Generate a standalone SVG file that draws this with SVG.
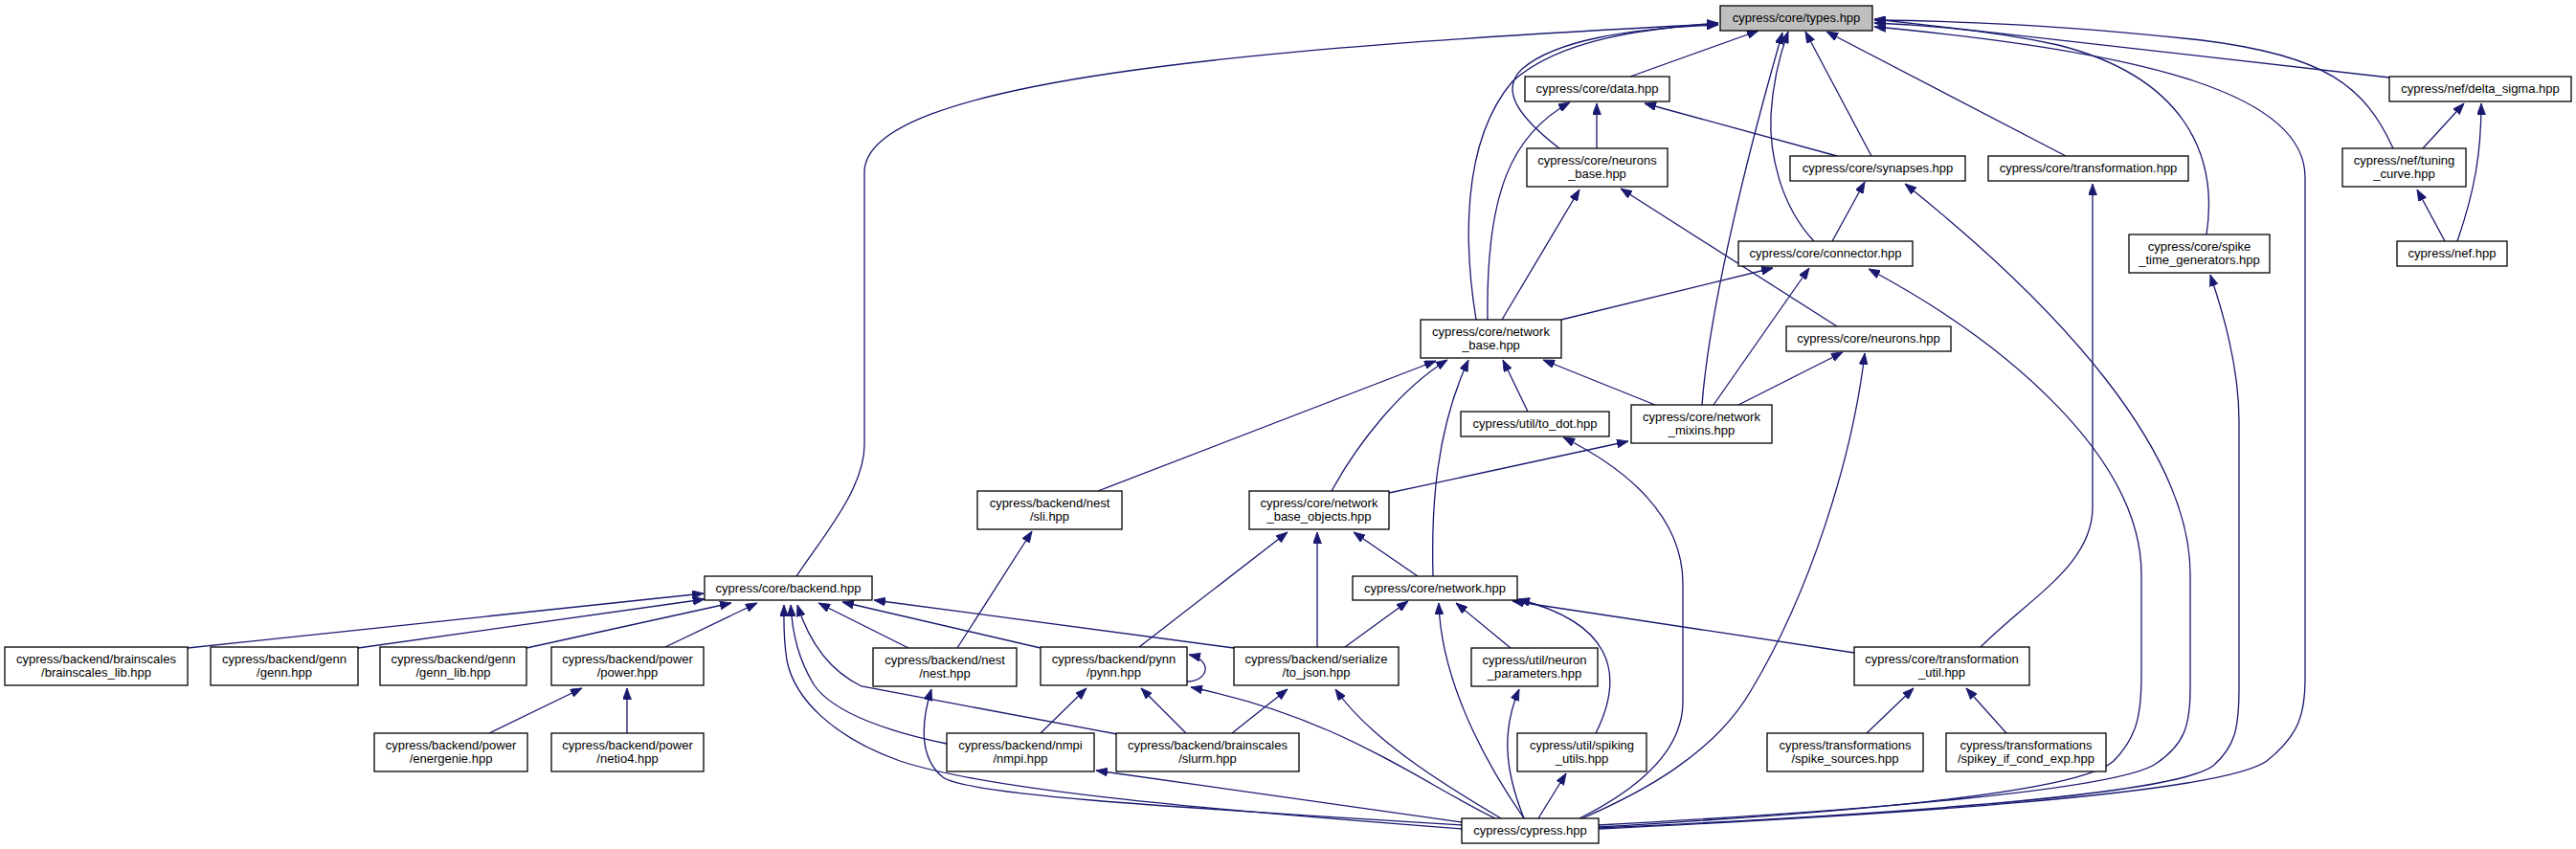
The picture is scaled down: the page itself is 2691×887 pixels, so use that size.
<svg xmlns="http://www.w3.org/2000/svg" width="2691" height="887" viewBox="0 0 2691 887">
<defs>
<style>
.n rect{fill:#ffffff;stroke:#000000;stroke-width:1.3}
.n.root rect{fill:#bfbfbf}
.n text{font-family:"Liberation Sans",Arial,sans-serif;font-size:13px;fill:#000000;text-anchor:middle}
.e path{fill:none;stroke:#191970;stroke-width:1.3;marker-end:url(#ah)}
</style>
<marker id="ah" markerWidth="12" markerHeight="9" refX="12" refY="4.5" orient="auto" markerUnits="userSpaceOnUse">
<path d="M0,0 L12,4.5 L0,9 z" fill="#191970" stroke="#191970" stroke-width="0.8"/>
</marker>
</defs>
<rect x="0" y="0" width="2691" height="887" fill="#ffffff"/>
<g id="edges" class="e">
<path d="M832,602 C860,560 903,510 903,465 L903,180 C903,85 1300,50 1795,25"/>
<path d="M1703,80 L1837,32"/>
<path d="M1629,155 C1590,125 1565,95 1590,72 C1625,42 1700,30 1795,26"/>
<path d="M1542,334 C1530,260 1525,150 1580,85 C1630,40 1720,30 1795,24"/>
<path d="M1554,334 C1552,200 1580,140 1640,107"/>
<path d="M1955,163 L1886,33"/>
<path d="M1895,252 C1860,215 1848,160 1850,120 C1852,85 1860,55 1868,33"/>
<path d="M1778,423 C1785,330 1820,180 1862,34"/>
<path d="M2158,163 L1908,33"/>
<path d="M2305,245 C2318,160 2280,80 2150,47 C2080,32 2010,26 1958,24"/>
<path d="M2496,81 L1958,20"/>
<path d="M2500,155 C2470,90 2430,58 2300,42 C2150,26 2050,22 1958,21"/>
<path d="M1670,866 C1960,852 2320,830 2368,795 C2402,768 2408,745 2408,710 L2408,185 C2408,100 2250,55 1958,28"/>
<path d="M1668,155 L1668,108"/>
<path d="M1919,163 L1718,108"/>
<path d="M1569,334 L1650,198"/>
<path d="M1919,341 L1693,197"/>
<path d="M1914,252 L1948,190"/>
<path d="M1670,862 C1930,848 2210,826 2252,798 C2282,778 2288,758 2288,720 L2288,600 C2288,470 2150,320 1990,192"/>
<path d="M1631,334 L1852,280"/>
<path d="M1790,423 L1890,280"/>
<path d="M1670,864 C1910,850 2170,830 2208,795 C2233,770 2237,745 2237,705 L2237,600 C2237,480 2100,360 1952,281"/>
<path d="M1670,865 C1950,852 2270,832 2312,800 C2335,780 2339,760 2339,720 L2339,440 C2339,380 2320,320 2309,287"/>
<path d="M1729,423 L1612,376"/>
<path d="M1391,513 C1420,460 1465,405 1512,376"/>
<path d="M1147,513 L1500,377"/>
<path d="M1596,430 L1570,376"/>
<path d="M1497,602 C1495,530 1500,450 1534,376"/>
<path d="M1816,423 L1925,368"/>
<path d="M1653,855 C1710,830 1790,790 1830,720 C1890,620 1935,480 1948,369"/>
<path d="M1650,855 C1700,830 1758,790 1758,733 L1758,610 C1758,540 1700,490 1633,457"/>
<path d="M1451,515 L1701,461"/>
<path d="M1190,676 L1345,556"/>
<path d="M1376,676 L1376,556"/>
<path d="M1481,602 L1414,556"/>
<path d="M1000,677 L1078,555"/>
<path d="M1568,855 C1500,815 1430,770 1395,720"/>
<path d="M1562,855 C1480,815 1400,750 1244,718"/>
<path d="M1592,855 C1540,780 1505,700 1503,630"/>
<path d="M1592,855 C1570,800 1570,760 1587,720"/>
<path d="M1607,855 L1636,808"/>
<path d="M1578,677 L1521,630"/>
<path d="M1667,766 C1700,700 1680,650 1586,626"/>
<path d="M1937,682 L1580,628"/>
<path d="M1405,676 L1471,628"/>
<path d="M2069,676 C2120,625 2186,590 2186,530 L2186,192"/>
<path d="M1950,766 L1999,719"/>
<path d="M2096,766 L2054,719"/>
<path d="M196,677 L735,620"/>
<path d="M374,677 L736,626"/>
<path d="M550,677 L764,630"/>
<path d="M695,676 L791,630"/>
<path d="M949,677 L855,630"/>
<path d="M1087,677 L880,629"/>
<path d="M1289,677 L913,627"/>
<path d="M1167,767 L900,717 C865,700 845,670 833,632"/>
<path d="M989,777 C930,765 870,745 850,715 C835,690 828,665 826,632"/>
<path d="M1527,866 C1250,845 1030,825 940,795 C870,770 830,730 822,690 C818,665 819,650 819,632"/>
<path d="M1527,862 C1200,842 1010,830 985,812 C960,792 962,755 973,720"/>
<path d="M1527,859 L1145,805"/>
<path d="M1087,766 L1135,719"/>
<path d="M1239,766 L1192,719"/>
<path d="M1287,766 L1345,720"/>
<path d="M1240,712 C1262,712 1268,690 1242,684"/>
<path d="M511,766 L608,719"/>
<path d="M655,766 L655,719"/>
<path d="M2531,155 L2574,108"/>
<path d="M2567,252 C2585,200 2592,160 2592,108"/>
<path d="M2554,252 L2525,198"/>
</g>
<g id="types" class="n root"><rect x="1797" y="6" width="159" height="26"/><text x="1876.5" y="22.5">cypress/core/types.hpp</text></g>
<g id="data" class="n"><rect x="1593" y="80" width="151" height="26"/><text x="1668.5" y="96.5">cypress/core/data.hpp</text></g>
<g id="delta_sigma" class="n"><rect x="2496" y="80" width="190" height="26"/><text x="2591" y="96.5">cypress/nef/delta_sigma.hpp</text></g>
<g id="neurons_base" class="n"><rect x="1595" y="155" width="147" height="40"/><text x="1668.5" y="171.5">cypress/core/neurons</text><text x="1668.5" y="185.5">_base.hpp</text></g>
<g id="synapses" class="n"><rect x="1870" y="163" width="183" height="26"/><text x="1961.5" y="179.5">cypress/core/synapses.hpp</text></g>
<g id="transformation" class="n"><rect x="2077" y="163" width="209" height="26"/><text x="2181.5" y="179.5">cypress/core/transformation.hpp</text></g>
<g id="tuning_curve" class="n"><rect x="2447" y="155" width="129" height="40"/><text x="2511.5" y="171.5">cypress/nef/tuning</text><text x="2511.5" y="185.5">_curve.hpp</text></g>
<g id="connector" class="n"><rect x="1816" y="252" width="182" height="26"/><text x="1907" y="268.5">cypress/core/connector.hpp</text></g>
<g id="spike_time_generators" class="n"><rect x="2224" y="245" width="147" height="40"/><text x="2297.5" y="261.5">cypress/core/spike</text><text x="2297.5" y="275.5">_time_generators.hpp</text></g>
<g id="nef" class="n"><rect x="2504" y="252" width="115" height="26"/><text x="2561.5" y="268.5">cypress/nef.hpp</text></g>
<g id="network_base" class="n"><rect x="1484" y="334" width="147" height="40"/><text x="1557.5" y="350.5">cypress/core/network</text><text x="1557.5" y="364.5">_base.hpp</text></g>
<g id="neurons" class="n"><rect x="1866" y="341" width="172" height="26"/><text x="1952" y="357.5">cypress/core/neurons.hpp</text></g>
<g id="to_dot" class="n"><rect x="1526" y="430" width="155" height="26"/><text x="1603.5" y="446.5">cypress/util/to_dot.hpp</text></g>
<g id="network_mixins" class="n"><rect x="1704" y="423" width="147" height="40"/><text x="1777.5" y="439.5">cypress/core/network</text><text x="1777.5" y="453.5">_mixins.hpp</text></g>
<g id="sli" class="n"><rect x="1021" y="513" width="151" height="40"/><text x="1096.5" y="529.5">cypress/backend/nest</text><text x="1096.5" y="543.5">/sli.hpp</text></g>
<g id="network_base_objects" class="n"><rect x="1305" y="513" width="146" height="40"/><text x="1378" y="529.5">cypress/core/network</text><text x="1378" y="543.5">_base_objects.hpp</text></g>
<g id="backend" class="n"><rect x="736" y="602" width="175" height="25"/><text x="823.5" y="618.5">cypress/core/backend.hpp</text></g>
<g id="network" class="n"><rect x="1413" y="602" width="172" height="25"/><text x="1499" y="618.5">cypress/core/network.hpp</text></g>
<g id="brainscales_lib" class="n"><rect x="5" y="676" width="191" height="40"/><text x="100.5" y="692.5">cypress/backend/brainscales</text><text x="100.5" y="706.5">/brainscales_lib.hpp</text></g>
<g id="genn" class="n"><rect x="220" y="676" width="154" height="40"/><text x="297" y="692.5">cypress/backend/genn</text><text x="297" y="706.5">/genn.hpp</text></g>
<g id="genn_lib" class="n"><rect x="397" y="676" width="153" height="40"/><text x="473.5" y="692.5">cypress/backend/genn</text><text x="473.5" y="706.5">/genn_lib.hpp</text></g>
<g id="power" class="n"><rect x="576" y="676" width="159" height="40"/><text x="655.5" y="692.5">cypress/backend/power</text><text x="655.5" y="706.5">/power.hpp</text></g>
<g id="nest" class="n"><rect x="912" y="677" width="150" height="40"/><text x="987" y="693.5">cypress/backend/nest</text><text x="987" y="707.5">/nest.hpp</text></g>
<g id="pynn" class="n"><rect x="1087" y="676" width="153" height="40"/><text x="1163.5" y="692.5">cypress/backend/pynn</text><text x="1163.5" y="706.5">/pynn.hpp</text></g>
<g id="to_json" class="n"><rect x="1289" y="676" width="172" height="40"/><text x="1375" y="692.5">cypress/backend/serialize</text><text x="1375" y="706.5">/to_json.hpp</text></g>
<g id="neuron_parameters" class="n"><rect x="1537" y="677" width="132" height="40"/><text x="1603" y="693.5">cypress/util/neuron</text><text x="1603" y="707.5">_parameters.hpp</text></g>
<g id="transformation_util" class="n"><rect x="1937" y="676" width="183" height="40"/><text x="2028.5" y="692.5">cypress/core/transformation</text><text x="2028.5" y="706.5">_util.hpp</text></g>
<g id="energenie" class="n"><rect x="391" y="766" width="160" height="40"/><text x="471" y="782.5">cypress/backend/power</text><text x="471" y="796.5">/energenie.hpp</text></g>
<g id="netio4" class="n"><rect x="576" y="766" width="159" height="40"/><text x="655.5" y="782.5">cypress/backend/power</text><text x="655.5" y="796.5">/netio4.hpp</text></g>
<g id="nmpi" class="n"><rect x="989" y="766" width="154" height="40"/><text x="1066" y="782.5">cypress/backend/nmpi</text><text x="1066" y="796.5">/nmpi.hpp</text></g>
<g id="slurm" class="n"><rect x="1166" y="766" width="191" height="40"/><text x="1261.5" y="782.5">cypress/backend/brainscales</text><text x="1261.5" y="796.5">/slurm.hpp</text></g>
<g id="spiking_utils" class="n"><rect x="1585" y="766" width="135" height="40"/><text x="1652.5" y="782.5">cypress/util/spiking</text><text x="1652.5" y="796.5">_utils.hpp</text></g>
<g id="spike_sources" class="n"><rect x="1846" y="766" width="163" height="40"/><text x="1927.5" y="782.5">cypress/transformations</text><text x="1927.5" y="796.5">/spike_sources.hpp</text></g>
<g id="spikey_if_cond_exp" class="n"><rect x="2033" y="766" width="167" height="40"/><text x="2116.5" y="782.5">cypress/transformations</text><text x="2116.5" y="796.5">/spikey_if_cond_exp.hpp</text></g>
<g id="cypress" class="n"><rect x="1527" y="855" width="143" height="26"/><text x="1598.5" y="871.5">cypress/cypress.hpp</text></g>
</svg>
